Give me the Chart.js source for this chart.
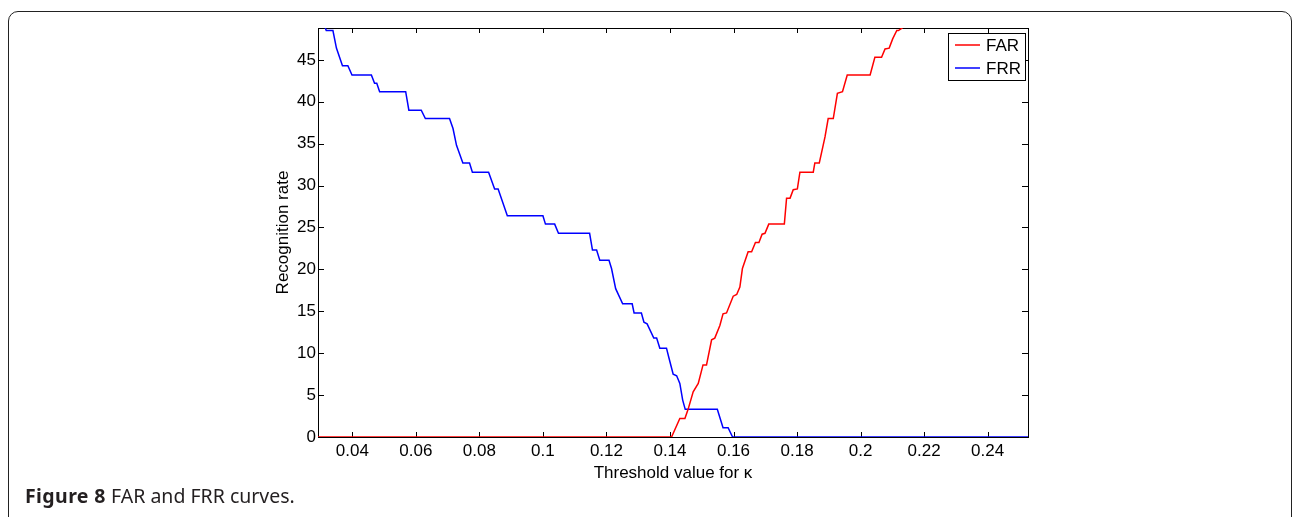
<!DOCTYPE html>
<html>
<head>
<meta charset="utf-8">
<title>FAR and FRR curves</title>
<script src="https://cdn.jsdelivr.net/npm/chart.js@4.4.0/dist/chart.umd.min.js"></script>
<style>
  html, body { margin: 0; padding: 0; background: #fff; }
  body { width: 1292px; height: 517px; position: relative; overflow: hidden; }
  .frame {
    position: absolute; left: 8px; top: 11px; width: 1284px; height: 600px;
    border: 1.5px solid #222; border-radius: 10px; box-sizing: border-box;
  }
  .chart-box { position: absolute; left: 0; top: 0; width: 1292px; height: 517px; }
  .caption {
    position: absolute; left: 25px; top: 483px; line-height: 26px;
    font-family: "Noto Sans", "Open Sans", sans-serif; font-size: 19.5px; color: #231f20;
  }
  .caption b { font-weight: bold; letter-spacing: 0.4px; }
</style>
</head>
<body>
<div class="frame"></div>
<div class="chart-box"><canvas id="rateChart"></canvas></div>
<div class="caption"><b>Figure 8</b> FAR and FRR curves.</div>

<script>
  // Threshold values (x) and rates (y)
  const farX = [0.0292, 0.1405, 0.1431, 0.1447, 0.1457, 0.1473, 0.1489, 0.1504, 0.1515, 0.1531,
    0.1541, 0.1557, 0.1567, 0.1578, 0.1599, 0.1610, 0.1620, 0.1628, 0.1646, 0.1657,
    0.1669, 0.1680, 0.1690, 0.1699, 0.1711, 0.1760, 0.1767, 0.1778, 0.1788, 0.1801,
    0.1809, 0.1851, 0.1856, 0.1870, 0.1888, 0.1898, 0.1914, 0.1927, 0.1943, 0.1958,
    0.2030, 0.2045, 0.2066, 0.2077, 0.2090, 0.2101, 0.2114, 0.2119, 0.2131, 0.2143];
  const farY = [0, 0, 2.2, 2.2, 3.3, 5.4, 6.4, 8.6, 8.6, 11.6,
    11.8, 13.3, 14.7, 14.8, 16.8, 17.0, 17.9, 20.1, 22.1, 22.1,
    23.2, 23.2, 24.2, 24.3, 25.4, 25.4, 28.5, 28.5, 29.5, 29.6,
    31.6, 31.6, 32.7, 32.7, 35.8, 38.0, 38.0, 41.0, 41.2, 43.2,
    43.2, 45.3, 45.3, 46.3, 46.4, 47.5, 48.5, 48.5, 48.8, 50];

  const frrX = [0.0292, 0.0313, 0.0318, 0.0339, 0.0350, 0.0369, 0.0386, 0.0399, 0.0460, 0.0470,
    0.0477, 0.0486, 0.0568, 0.0578, 0.0617, 0.0630, 0.0706, 0.0717, 0.0728, 0.0748,
    0.0769, 0.0778, 0.0829, 0.0848, 0.0859, 0.0888, 0.1000, 0.1008, 0.1037, 0.1049,
    0.1147, 0.1156, 0.1169, 0.1179, 0.1208, 0.1216, 0.1229, 0.1251, 0.1281, 0.1287,
    0.1310, 0.1318, 0.1328, 0.1349, 0.1358, 0.1368, 0.1389, 0.1397, 0.1410, 0.1421,
    0.1431, 0.1440, 0.1448, 0.1549, 0.1567, 0.1583, 0.1597, 0.2527];
  const frrY = [50, 49.0, 48.5, 48.5, 46.4, 44.3, 44.3, 43.2, 43.2, 42.2,
    42.2, 41.2, 41.2, 39.0, 39.0, 38.0, 38.0, 36.8, 34.8, 32.7,
    32.7, 31.6, 31.6, 29.6, 29.6, 26.4, 26.4, 25.4, 25.4, 24.3,
    24.3, 22.3, 22.3, 21.1, 21.1, 20.1, 17.7, 15.9, 15.9, 14.8,
    14.8, 13.7, 13.5, 11.8, 11.8, 10.6, 10.6, 9.4, 7.5, 7.3,
    6.4, 4.4, 3.3, 3.3, 1.1, 1.1, 0, 0];

  const xTicks = [0.04, 0.06, 0.08, 0.1, 0.12, 0.14, 0.16, 0.18, 0.2, 0.22, 0.24];
  const yTicks = [0, 5, 10, 15, 20, 25, 30, 35, 40, 45];
  const xRange = [0.0292, 0.2527];
  const yRange = [0, 48.8];

  const toPoints = (xs, ys) => xs.map((x, i) => ({ x: x, y: ys[i] }));

  // MATLAB style box: inward ticks on all four sides + legend in the top right corner
  const matlabBox = {
    id: 'matlabBox',
    beforeDatasetsDraw(chart) {
      const { ctx, chartArea: a, scales: { x, y } } = chart;
      ctx.save();
      ctx.strokeStyle = '#000';
      ctx.lineWidth = 1;
      ctx.strokeRect(Math.round(a.left) + 0.5, Math.round(a.top) + 0.5,
        Math.round(a.right - a.left), Math.round(a.bottom - a.top));
      ctx.beginPath();
      x.ticks.forEach(t => {
        const px = Math.round(x.getPixelForValue(t.value)) + 0.5;
        ctx.moveTo(px, a.bottom); ctx.lineTo(px, a.bottom - 5);
        ctx.moveTo(px, a.top); ctx.lineTo(px, a.top + 5);
      });
      y.ticks.forEach(t => {
        const py = Math.round(y.getPixelForValue(t.value)) + 0.5;
        ctx.moveTo(a.left, py); ctx.lineTo(a.left + 6, py);
        ctx.moveTo(a.right, py); ctx.lineTo(a.right - 6, py);
      });
      ctx.stroke();
      ctx.restore();
    },
    afterDatasetsDraw(chart) {
      const { ctx, chartArea: a } = chart;
      const w = 77, h = 47;
      const bx = a.right - 3 - w, by = a.top + 5;
      ctx.save();
      ctx.fillStyle = '#fff';
      ctx.fillRect(bx, by, w, h);
      ctx.strokeStyle = '#000';
      ctx.lineWidth = 1;
      ctx.strokeRect(Math.round(bx) + 0.5, Math.round(by) + 0.5, w, h);
      ctx.font = '17px "Liberation Sans", Arial, sans-serif';
      ctx.textBaseline = 'middle';
      chart.data.datasets.forEach((ds, i) => {
        const ly = by + 12 + i * 23;
        ctx.strokeStyle = ds.borderColor;
        ctx.lineWidth = 1.5;
        ctx.beginPath();
        ctx.moveTo(bx + 7, ly); ctx.lineTo(bx + 32, ly);
        ctx.stroke();
        ctx.fillStyle = '#000';
        ctx.fillText(ds.label, bx + 38, ly + 1);
      });
      ctx.restore();
    }
  };

  function initializeChart() {
    Chart.defaults.font.family = '"Liberation Sans", Arial, sans-serif';
    Chart.defaults.font.size = 17;
    Chart.defaults.color = '#000';

    const ctx = document.getElementById('rateChart').getContext('2d');
    new Chart(ctx, {
      type: 'line',
      data: {
        datasets: [{
          label: 'FAR',
          data: toPoints(farX, farY),
          borderColor: '#ff0000',
          borderWidth: 1.5,
          pointRadius: 0,
          tension: 0
        }, {
          label: 'FRR',
          data: toPoints(frrX, frrY),
          borderColor: '#0000ff',
          borderWidth: 1.5,
          pointRadius: 0,
          tension: 0
        }]
      },
      options: {
        responsive: true,
        maintainAspectRatio: false,
        animation: false,
        layout: { padding: { left: 269, top: 28, right: 264, bottom: 29 } },
        plugins: {
          legend: { display: false },
          tooltip: { enabled: false }
        },
        scales: {
          x: {
            type: 'linear',
            min: xRange[0],
            max: xRange[1],
            grid: { display: false, drawTicks: false },
            border: { display: false },
            afterBuildTicks: s => { s.ticks = xTicks.map(v => ({ value: v })); },
            afterFit: s => { s.height = 51; },
            ticks: { padding: 4, maxRotation: 0, autoSkip: false, callback: v => String(v) },
            title: { display: true, text: 'Threshold value for κ', padding: { top: 4, bottom: 4 } }
          },
          y: {
            min: yRange[0],
            max: yRange[1],
            grid: { display: false, drawTicks: false },
            border: { display: false },
            afterBuildTicks: s => { s.ticks = yTicks.map(v => ({ value: v })); },
            afterFit: s => { s.width = 49; },
            ticks: { padding: 2, autoSkip: false, callback: v => String(v) },
            title: { display: true, text: 'Recognition rate', padding: { top: 4, bottom: 4 } }
          }
        }
      },
      plugins: [matlabBox]
    });
  }

  document.addEventListener('DOMContentLoaded', initializeChart);
</script>
</body>
</html>
